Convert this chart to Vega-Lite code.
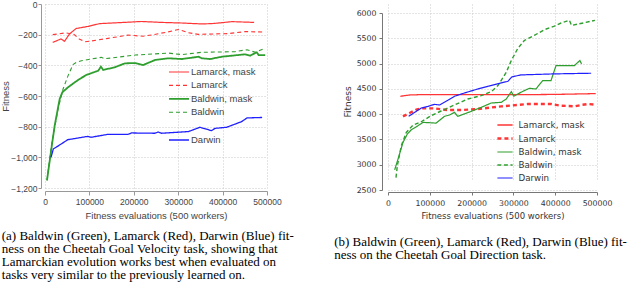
{
  "$schema": "https://vega.github.io/schema/vega-lite/v6.json",
  "padding": {"left": 0, "top": 0, "right": 0, "bottom": 0},
  "background": "white",
  "spacing": 121,
  "bounds": "flush",
  "resolve": {
    "scale": {"color": "independent", "strokeDash": "independent", "strokeWidth": "independent"},
    "legend": {"color": "independent", "strokeDash": "independent", "strokeWidth": "independent"}
  },
  "config": {"view": {"stroke": null}},
  "datasets": {
    "velocity": [
      {"x":17400,"y":-250,"s":"Lamarck, mask"},{"x":36000,"y":-228,"s":"Lamarck, mask"},{"x":44000,"y":-243,"s":"Lamarck, mask"},{"x":55000,"y":-196,"s":"Lamarck, mask"},{"x":70000,"y":-160,"s":"Lamarck, mask"},{"x":97000,"y":-146,"s":"Lamarck, mask"},{"x":123000,"y":-128,"s":"Lamarck, mask"},{"x":172000,"y":-121,"s":"Lamarck, mask"},{"x":217000,"y":-114,"s":"Lamarck, mask"},{"x":262000,"y":-120,"s":"Lamarck, mask"},{"x":308000,"y":-124,"s":"Lamarck, mask"},{"x":353000,"y":-130,"s":"Lamarck, mask"},{"x":375000,"y":-128,"s":"Lamarck, mask"},{"x":398000,"y":-122,"s":"Lamarck, mask"},{"x":421000,"y":-115,"s":"Lamarck, mask"},{"x":471000,"y":-120,"s":"Lamarck, mask"},
      {"x":17400,"y":-200,"s":"Lamarck"},{"x":47000,"y":-188,"s":"Lamarck"},{"x":65000,"y":-198,"s":"Lamarck"},{"x":77000,"y":-228,"s":"Lamarck"},{"x":90000,"y":-246,"s":"Lamarck"},{"x":100000,"y":-243,"s":"Lamarck"},{"x":142000,"y":-224,"s":"Lamarck"},{"x":187000,"y":-203,"s":"Lamarck"},{"x":220000,"y":-210,"s":"Lamarck"},{"x":240000,"y":-202,"s":"Lamarck"},{"x":277000,"y":-182,"s":"Lamarck"},{"x":300000,"y":-166,"s":"Lamarck"},{"x":323000,"y":-187,"s":"Lamarck"},{"x":345000,"y":-198,"s":"Lamarck"},{"x":413000,"y":-193,"s":"Lamarck"},{"x":451000,"y":-180,"s":"Lamarck"},{"x":496000,"y":-183,"s":"Lamarck"},
      {"x":4500,"y":-1150,"s":"Baldwin"},{"x":14300,"y":-924,"s":"Baldwin"},{"x":29400,"y":-685,"s":"Baldwin"},{"x":40700,"y":-554,"s":"Baldwin"},{"x":52000,"y":-467,"s":"Baldwin"},{"x":63000,"y":-395,"s":"Baldwin"},{"x":71000,"y":-380,"s":"Baldwin"},{"x":82000,"y":-370,"s":"Baldwin"},{"x":127000,"y":-348,"s":"Baldwin"},{"x":135000,"y":-357,"s":"Baldwin"},{"x":203000,"y":-333,"s":"Baldwin"},{"x":278000,"y":-320,"s":"Baldwin"},{"x":308000,"y":-330,"s":"Baldwin"},{"x":353000,"y":-315,"s":"Baldwin"},{"x":428000,"y":-311,"s":"Baldwin"},{"x":455000,"y":-298,"s":"Baldwin"},{"x":474000,"y":-315,"s":"Baldwin"},{"x":492000,"y":-293,"s":"Baldwin"},
      {"x":4500,"y":-1150,"s":"Baldwin, mask"},{"x":14300,"y":-946,"s":"Baldwin, mask"},{"x":21800,"y":-793,"s":"Baldwin, mask"},{"x":33000,"y":-620,"s":"Baldwin, mask"},{"x":39000,"y":-576,"s":"Baldwin, mask"},{"x":52000,"y":-543,"s":"Baldwin, mask"},{"x":67000,"y":-511,"s":"Baldwin, mask"},{"x":78000,"y":-489,"s":"Baldwin, mask"},{"x":93000,"y":-463,"s":"Baldwin, mask"},{"x":120000,"y":-435,"s":"Baldwin, mask"},{"x":126000,"y":-409,"s":"Baldwin, mask"},{"x":131000,"y":-430,"s":"Baldwin, mask"},{"x":157000,"y":-413,"s":"Baldwin, mask"},{"x":180000,"y":-387,"s":"Baldwin, mask"},{"x":203000,"y":-385,"s":"Baldwin, mask"},{"x":221000,"y":-398,"s":"Baldwin, mask"},{"x":248000,"y":-365,"s":"Baldwin, mask"},{"x":278000,"y":-354,"s":"Baldwin, mask"},{"x":308000,"y":-359,"s":"Baldwin, mask"},{"x":346000,"y":-344,"s":"Baldwin, mask"},{"x":353000,"y":-354,"s":"Baldwin, mask"},{"x":372000,"y":-359,"s":"Baldwin, mask"},{"x":398000,"y":-344,"s":"Baldwin, mask"},{"x":451000,"y":-328,"s":"Baldwin, mask"},{"x":462000,"y":-337,"s":"Baldwin, mask"},{"x":477000,"y":-315,"s":"Baldwin, mask"},{"x":481000,"y":-333,"s":"Baldwin, mask"},{"x":496000,"y":-333,"s":"Baldwin, mask"},
      {"x":13600,"y":-1000,"s":"Darwin"},{"x":18800,"y":-945,"s":"Darwin"},{"x":30000,"y":-925,"s":"Darwin"},{"x":51300,"y":-885,"s":"Darwin"},{"x":70000,"y":-876,"s":"Darwin"},{"x":96600,"y":-863,"s":"Darwin"},{"x":104000,"y":-869,"s":"Darwin"},{"x":142000,"y":-850,"s":"Darwin"},{"x":187000,"y":-850,"s":"Darwin"},{"x":195000,"y":-841,"s":"Darwin"},{"x":247000,"y":-843,"s":"Darwin"},{"x":255000,"y":-835,"s":"Darwin"},{"x":262000,"y":-843,"s":"Darwin"},{"x":323000,"y":-832,"s":"Darwin"},{"x":349000,"y":-804,"s":"Darwin"},{"x":375000,"y":-826,"s":"Darwin"},{"x":383000,"y":-811,"s":"Darwin"},{"x":409000,"y":-804,"s":"Darwin"},{"x":443000,"y":-767,"s":"Darwin"},{"x":455000,"y":-743,"s":"Darwin"},{"x":489000,"y":-740,"s":"Darwin"}
    ],
    "direction": [
      {"x":29500,"y":4353,"s":"Lamarck, mask"},{"x":51700,"y":4379,"s":"Lamarck, mask"},{"x":79600,"y":4386,"s":"Lamarck, mask"},{"x":159000,"y":4386,"s":"Lamarck, mask"},{"x":318000,"y":4385,"s":"Lamarck, mask"},{"x":398000,"y":4390,"s":"Lamarck, mask"},{"x":497000,"y":4406,"s":"Lamarck, mask"},
      {"x":35800,"y":3956,"s":"Lamarck"},{"x":51700,"y":4022,"s":"Lamarck"},{"x":67700,"y":4088,"s":"Lamarck"},{"x":79600,"y":4114,"s":"Lamarck"},{"x":111000,"y":4114,"s":"Lamarck"},{"x":143000,"y":4081,"s":"Lamarck"},{"x":175000,"y":4081,"s":"Lamarck"},{"x":215000,"y":4101,"s":"Lamarck"},{"x":271000,"y":4154,"s":"Lamarck"},{"x":310000,"y":4181,"s":"Lamarck"},{"x":334000,"y":4200,"s":"Lamarck"},{"x":390000,"y":4200,"s":"Lamarck"},{"x":414000,"y":4167,"s":"Lamarck"},{"x":446000,"y":4154,"s":"Lamarck"},{"x":462000,"y":4181,"s":"Lamarck"},{"x":478000,"y":4200,"s":"Lamarck"},{"x":497000,"y":4187,"s":"Lamarck"},
      {"x":15900,"y":2897,"s":"Baldwin, mask"},{"x":23900,"y":3109,"s":"Baldwin, mask"},{"x":35800,"y":3440,"s":"Baldwin, mask"},{"x":46200,"y":3605,"s":"Baldwin, mask"},{"x":55700,"y":3691,"s":"Baldwin, mask"},{"x":71600,"y":3771,"s":"Baldwin, mask"},{"x":83600,"y":3837,"s":"Baldwin, mask"},{"x":115000,"y":3823,"s":"Baldwin, mask"},{"x":135000,"y":3956,"s":"Baldwin, mask"},{"x":147000,"y":3982,"s":"Baldwin, mask"},{"x":159000,"y":4035,"s":"Baldwin, mask"},{"x":167000,"y":3956,"s":"Baldwin, mask"},{"x":199000,"y":4055,"s":"Baldwin, mask"},{"x":223000,"y":4134,"s":"Baldwin, mask"},{"x":247000,"y":4220,"s":"Baldwin, mask"},{"x":271000,"y":4234,"s":"Baldwin, mask"},{"x":283000,"y":4300,"s":"Baldwin, mask"},{"x":295000,"y":4445,"s":"Baldwin, mask"},{"x":301000,"y":4353,"s":"Baldwin, mask"},{"x":318000,"y":4432,"s":"Baldwin, mask"},{"x":338000,"y":4511,"s":"Baldwin, mask"},{"x":354000,"y":4498,"s":"Baldwin, mask"},{"x":370000,"y":4664,"s":"Baldwin, mask"},{"x":390000,"y":4664,"s":"Baldwin, mask"},{"x":402000,"y":4961,"s":"Baldwin, mask"},{"x":446000,"y":4961,"s":"Baldwin, mask"},{"x":459000,"y":5061,"s":"Baldwin, mask"},{"x":463000,"y":4994,"s":"Baldwin, mask"},
      {"x":19100,"y":2745,"s":"Baldwin"},{"x":22300,"y":2977,"s":"Baldwin"},{"x":31800,"y":3374,"s":"Baldwin"},{"x":43800,"y":3638,"s":"Baldwin"},{"x":59700,"y":3784,"s":"Baldwin"},{"x":79600,"y":3850,"s":"Baldwin"},{"x":103000,"y":3969,"s":"Baldwin"},{"x":127000,"y":4062,"s":"Baldwin"},{"x":159000,"y":4181,"s":"Baldwin"},{"x":191000,"y":4300,"s":"Baldwin"},{"x":223000,"y":4366,"s":"Baldwin"},{"x":247000,"y":4445,"s":"Baldwin"},{"x":263000,"y":4564,"s":"Baldwin"},{"x":283000,"y":4829,"s":"Baldwin"},{"x":295000,"y":5061,"s":"Baldwin"},{"x":310000,"y":5292,"s":"Baldwin"},{"x":326000,"y":5457,"s":"Baldwin"},{"x":350000,"y":5557,"s":"Baldwin"},{"x":374000,"y":5669,"s":"Baldwin"},{"x":398000,"y":5742,"s":"Baldwin"},{"x":414000,"y":5802,"s":"Baldwin"},{"x":434000,"y":5855,"s":"Baldwin"},{"x":439000,"y":5755,"s":"Baldwin"},{"x":470000,"y":5808,"s":"Baldwin"},{"x":495000,"y":5855,"s":"Baldwin"},
      {"x":49400,"y":3956,"s":"Darwin"},{"x":63700,"y":4035,"s":"Darwin"},{"x":79600,"y":4121,"s":"Darwin"},{"x":95500,"y":4154,"s":"Darwin"},{"x":111000,"y":4194,"s":"Darwin"},{"x":123000,"y":4181,"s":"Darwin"},{"x":143000,"y":4273,"s":"Darwin"},{"x":159000,"y":4353,"s":"Darwin"},{"x":183000,"y":4419,"s":"Darwin"},{"x":215000,"y":4498,"s":"Darwin"},{"x":239000,"y":4551,"s":"Darwin"},{"x":271000,"y":4617,"s":"Darwin"},{"x":287000,"y":4650,"s":"Darwin"},{"x":296000,"y":4736,"s":"Darwin"},{"x":318000,"y":4776,"s":"Darwin"},{"x":398000,"y":4796,"s":"Darwin"},{"x":486000,"y":4809,"s":"Darwin"}
    ]
  },
  "hconcat": [
    {
      "width": 222,
      "height": 184,
      "data": {"name": "velocity"},
      "title": {
        "text": ["(a) Baldwin (Green), Lamarck (Red), Darwin (Blue) fit-", "ness on the Cheetah Goal Velocity task, showing that", "Lamarckian evolution works best when evaluated on", "tasks very similar to the previously learned on."],
        "orient": "bottom", "anchor": "start", "frame": "bounds", "dx": 1,
        "font": "Liberation Serif", "fontSize": 13, "fontWeight": "normal", "color": "#000",
        "lineHeight": 13, "offset": 10
      },
      "mark": {"type": "line", "clip": true},
      "encoding": {
        "x": {
          "field": "x", "type": "quantitative",
          "scale": {"domain": [0, 500000], "nice": false, "zero": false},
          "axis": {
            "title": "Fitness evaluations (500 workers)",
            "values": [0, 100000, 200000, 300000, 400000, 500000], "format": "d",
            "labelOverlap": false, "labelFlush": false,
            "offset": 3, "domainColor": "#999", "tickColor": "#999", "tickSize": 4,
            "labelFont": "Liberation Sans", "labelFontSize": 8.5, "labelColor": "#444", "labelPadding": 2,
            "titleFont": "Liberation Sans", "titleFontSize": 9.5, "titleFontWeight": "normal", "titleColor": "#444", "titlePadding": 5,
            "grid": true, "gridColor": "#c8c8c8", "gridDash": [1, 2]
          }
        },
        "y": {
          "field": "y", "type": "quantitative",
          "scale": {"domain": [-1200, 0], "nice": false, "zero": false},
          "axis": {
            "title": "Fitness",
            "values": [-1200, -1000, -800, -600, -400, -200, 0],
            "labelOverlap": false, "labelFlush": false,
            "offset": 4, "domainColor": "#999", "tickColor": "#999", "tickSize": 3,
            "labelFont": "Liberation Sans", "labelFontSize": 8.5, "labelColor": "#444", "labelPadding": 1,
            "titleFont": "Liberation Sans", "titleFontSize": 9.5, "titleFontWeight": "normal", "titleColor": "#444", "titlePadding": 0,
            "grid": true, "gridColor": "#c8c8c8", "gridDash": [1, 2]
          }
        },
        "color": {
          "field": "s", "type": "nominal",
          "scale": {"domain": ["Lamarck, mask", "Lamarck", "Baldwin, mask", "Baldwin", " ", "Darwin"], "range": ["#ff3535", "#ff3535", "#2e9e2e", "#2e9e2e", "transparent", "#2020ff"]},
          "legend": {
            "title": null, "orient": "none", "legendX": 129, "legendY": 63,
            "symbolType": "M-2.5,0H2.5", "symbolSize": 64, "labelOffset": 7, "rowPadding": 3.4,
            "labelFont": "Liberation Sans", "labelFontSize": 9.5, "labelColor": "#444"
          }
        },
        "strokeDash": {
          "field": "s", "type": "nominal",
          "scale": {"domain": ["Lamarck, mask", "Lamarck", "Baldwin, mask", "Baldwin", " ", "Darwin"], "range": [[1, 0], [4, 3], [1, 0], [4, 3], [1, 0], [1, 0]]},
          "legend": {
            "title": null, "orient": "none", "legendX": 129, "legendY": 63,
            "symbolType": "M-2.5,0H2.5", "symbolSize": 64, "labelOffset": 7, "rowPadding": 3.4,
            "labelFont": "Liberation Sans", "labelFontSize": 9.5, "labelColor": "#444"
          }
        },
        "strokeWidth": {
          "field": "s", "type": "nominal",
          "scale": {"type": "ordinal", "domain": ["Lamarck, mask", "Lamarck", "Baldwin, mask", "Baldwin", " ", "Darwin"], "range": [1.2, 1.1, 1.8, 1.1, 1, 1.3]},
          "legend": {
            "title": null, "orient": "none", "legendX": 129, "legendY": 63,
            "symbolType": "M-2.5,0H2.5", "symbolSize": 64, "labelOffset": 7, "rowPadding": 3.4,
            "labelFont": "Liberation Sans", "labelFontSize": 9.5, "labelColor": "#444"
          }
        }
      }
    },
    {
      "width": 209,
      "height": 186,
      "data": {"name": "direction"},
      "title": {
        "text": ["(b) Baldwin (Green), Lamarck (Red), Darwin (Blue) fit-", "ness on the Cheetah Goal Direction task."],
        "orient": "bottom", "anchor": "start", "frame": "bounds", "dx": -9,
        "font": "Liberation Serif", "fontSize": 13, "fontWeight": "normal", "color": "#000",
        "lineHeight": 13, "offset": 16
      },
      "mark": {"type": "line", "clip": true},
      "encoding": {
        "x": {
          "field": "x", "type": "quantitative",
          "scale": {"domain": [0, 500000], "nice": false, "zero": false},
          "axis": {
            "title": "Fitness evaluations (500 workers)",
            "values": [0, 100000, 200000, 300000, 400000, 500000], "format": "d",
            "labelOverlap": false, "labelFlush": false,
            "offset": 2, "domainColor": "#777", "tickColor": "#777", "tickSize": 3,
            "labelFont": "DejaVu Sans", "labelFontSize": 7.8, "labelColor": "#333", "labelPadding": 4,
            "titleFont": "DejaVu Sans", "titleFontSize": 8.5, "titleFontWeight": "normal", "titleColor": "#333", "titlePadding": 5,
            "grid": true, "gridColor": "#c8c8c8", "gridDash": [1, 2]
          }
        },
        "y": {
          "field": "y", "type": "quantitative",
          "scale": {"domain": [2500, 6000], "nice": false, "zero": false, "range": [186, 9]},
          "axis": {
            "title": "Fitness",
            "values": [2500, 3000, 3500, 4000, 4500, 5000, 5500, 6000], "format": "d",
            "labelOverlap": false, "labelFlush": false,
            "offset": 6, "domainColor": "#777", "tickColor": "#777", "tickSize": 3,
            "labelFont": "DejaVu Sans", "labelFontSize": 7.8, "labelColor": "#333", "labelPadding": 3,
            "titleFont": "DejaVu Sans", "titleFontSize": 9, "titleFontWeight": "normal", "titleColor": "#333", "titlePadding": 4,
            "grid": true, "gridColor": "#c8c8c8", "gridDash": [1, 2]
          }
        },
        "color": {
          "field": "s", "type": "nominal",
          "scale": {"domain": ["Lamarck, mask", "Lamarck", "Baldwin, mask", "Baldwin", "Darwin"], "range": ["#ff3535", "#ff3535", "#2e9e2e", "#2e9e2e", "#2020ff"]},
          "legend": {
            "title": null, "orient": "none", "legendX": 111.5, "legendY": 116,
            "symbolType": "M-1.9,0H1.9", "symbolSize": 64, "labelOffset": 8, "rowPadding": 3,
            "labelFont": "DejaVu Sans", "labelFontSize": 8.7, "labelColor": "#333"
          }
        },
        "strokeDash": {
          "field": "s", "type": "nominal",
          "scale": {"domain": ["Lamarck, mask", "Lamarck", "Baldwin, mask", "Baldwin", "Darwin"], "range": [[1, 0], [4, 3], [1, 0], [4, 2.5], [1, 0]]},
          "legend": {
            "title": null, "orient": "none", "legendX": 111.5, "legendY": 116,
            "symbolType": "M-1.9,0H1.9", "symbolSize": 64, "labelOffset": 8, "rowPadding": 3,
            "labelFont": "DejaVu Sans", "labelFontSize": 8.7, "labelColor": "#333"
          }
        },
        "strokeWidth": {
          "field": "s", "type": "nominal",
          "scale": {"type": "ordinal", "domain": ["Lamarck, mask", "Lamarck", "Baldwin, mask", "Baldwin", "Darwin"], "range": [1.3, 2.4, 1.2, 1.4, 1.2]},
          "legend": {
            "title": null, "orient": "none", "legendX": 111.5, "legendY": 116,
            "symbolType": "M-1.9,0H1.9", "symbolSize": 64, "labelOffset": 8, "rowPadding": 3,
            "labelFont": "DejaVu Sans", "labelFontSize": 8.7, "labelColor": "#333"
          }
        }
      }
    }
  ]
}
